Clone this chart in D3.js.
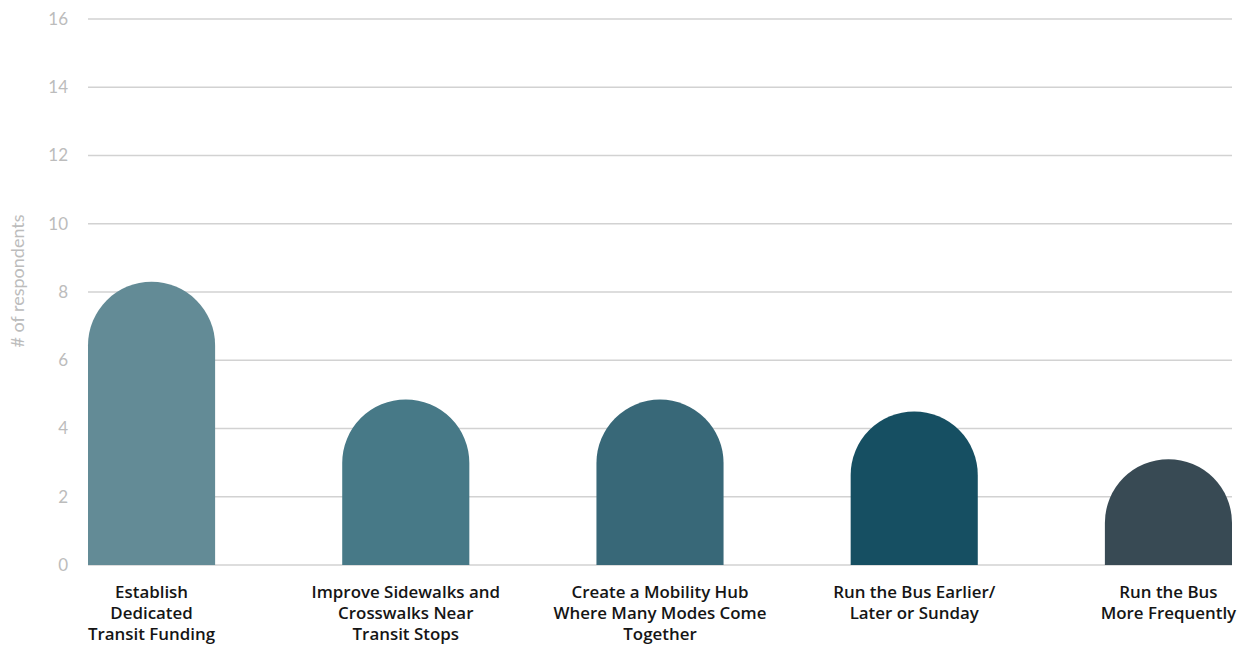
<!DOCTYPE html>
<html>
<head>
<meta charset="utf-8">
<script src="https://cdn.jsdelivr.net/npm/d3@7"></script>
<style>
  html, body { margin: 0; padding: 0; background: #ffffff; }
  svg { display: block; }
</style>
</head>
<body>
<svg id="chart" width="1248" height="645"></svg>
<script>
const categories = [
  ["Establish", "Dedicated", "Transit Funding"],
  ["Improve Sidewalks and", "Crosswalks Near", "Transit Stops"],
  ["Create a Mobility Hub", "Where Many Modes Come", "Together"],
  ["Run the Bus Earlier/", "Later or Sunday"],
  ["Run the Bus", "More Frequently"]
];
const values = [8.3, 4.85, 4.85, 4.5, 3.1];
const barColors = ["#638b96", "#477987", "#386878", "#164f62", "#384a54"];
const yTicks = [0, 2, 4, 6, 8, 10, 12, 14, 16];
const yTitle = "# of respondents";

const svg = d3.select("#chart");
const plotLeft = 88, plotRight = 1232, plotTop = 19, plotBottom = 565;

const x = d3.scaleBand()
  .domain(d3.range(values.length))
  .range([plotLeft, plotRight])
  .paddingInner(0.5)
  .paddingOuter(0);

const y = d3.scaleLinear().domain([0, 16]).range([plotBottom, plotTop]);

// gridlines
svg.append("g")
  .selectAll("line")
  .data(yTicks)
  .join("line")
  .attr("x1", plotLeft)
  .attr("x2", plotRight)
  .attr("y1", d => y(d))
  .attr("y2", d => y(d))
  .attr("stroke", "#d2d2d2")
  .attr("stroke-width", 1.3);

// y axis labels
const yAxis = d3.axisLeft(y).tickValues(yTicks).tickSize(0).tickPadding(20);
const yg = svg.append("g").attr("transform", `translate(${plotLeft},0)`).call(yAxis);
yg.select(".domain").remove();
yg.selectAll("text")
  .attr("fill", "#bcbcbc")
  .style("font-family", "Lato, sans-serif")
  .style("font-size", "17px");

// y title
svg.append("text")
  .attr("transform", `translate(24, ${281}) rotate(-90)`)
  .attr("text-anchor", "middle")
  .attr("fill", "#bcbcbc")
  .style("font-family", "Lato, sans-serif")
  .style("font-size", "18px")
  .text(yTitle);

// bars with rounded tops
const bw = x.bandwidth();
const r = bw / 2;
svg.append("g")
  .selectAll("path")
  .data(values)
  .join("path")
  .attr("fill", (d, i) => barColors[i])
  .attr("d", (d, i) => {
    const x0 = x(i), x1 = x0 + bw;
    const yTop = y(d);
    const yArc = Math.min(yTop + r, y(0));
    return `M${x0},${y(0)} L${x0},${yArc} A${r},${r} 0 0 1 ${x1},${yArc} L${x1},${y(0)} Z`;
  });

// x labels
const xl = svg.append("g");
categories.forEach((lines, i) => {
  const t = xl.append("text")
    .attr("x", x(i) + bw / 2)
    .attr("y", 598)
    .attr("text-anchor", "middle")
    .attr("fill", "#151515")
    .style("font-family", "'Open Sans', sans-serif")
    .style("font-weight", "600")
    .style("font-size", "16.9px");
  lines.forEach((ln, j) => {
    t.append("tspan")
      .attr("x", x(i) + bw / 2)
      .attr("dy", j === 0 ? 0 : 21)
      .text(ln);
  });
});
</script>
</body>
</html>
